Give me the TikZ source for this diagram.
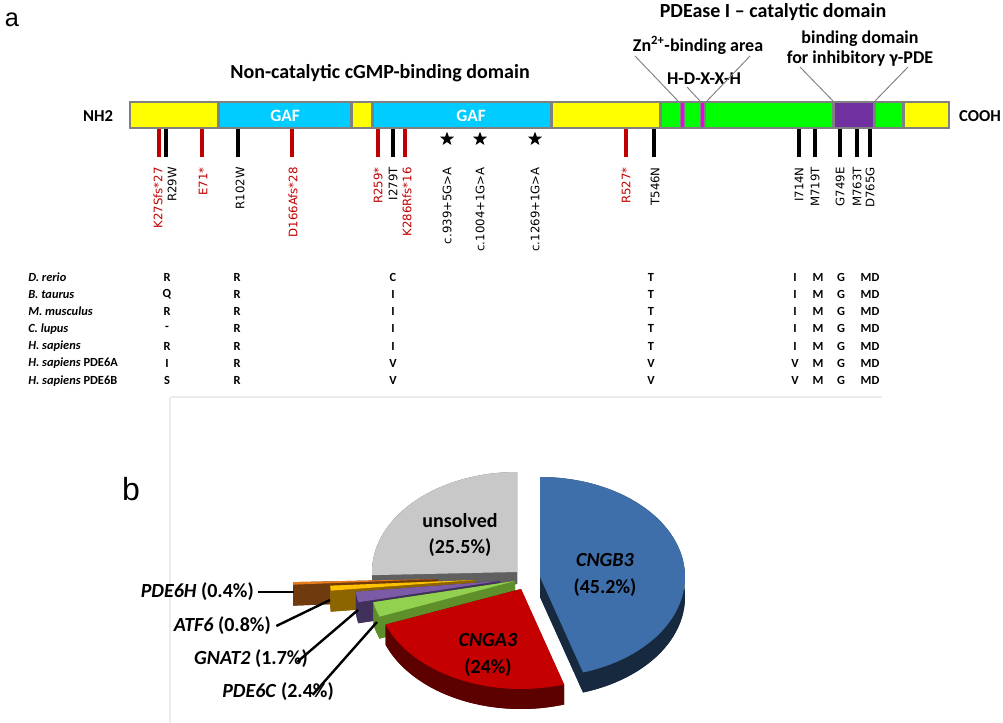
\documentclass[tikz,border=0pt]{standalone}
\usepackage{fontspec}
\setmainfont{Carlito}
\newfontfamily\mutfont{DejaVu Sans}
\newfontfamily\panelfont{Liberation Sans}
\usetikzlibrary{shapes.geometric}

\definecolor{mutred}{HTML}{C00000}
\definecolor{bargray}{HTML}{808080}
\definecolor{segyellow}{HTML}{FFFF00}
\definecolor{segcyan}{HTML}{00CCFF}
\definecolor{seggreen}{HTML}{00FF00}
\definecolor{segmagenta}{HTML}{EE00EE}
\definecolor{segpurple}{HTML}{7030A0}
\definecolor{framegray}{HTML}{EBEBEB}
\definecolor{unsolvtop}{HTML}{C8C8C8}
\definecolor{unsolvside}{HTML}{606060}
\definecolor{bluetop}{HTML}{3F6FAA}
\definecolor{blueside}{HTML}{17293F}
\definecolor{redtop}{HTML}{C40000}
\definecolor{redside}{HTML}{5C0000}
\definecolor{greentop}{HTML}{92D050}
\definecolor{greenside}{HTML}{5E8F2A}
\definecolor{purpletop}{HTML}{7B5BA6}
\definecolor{purpleside}{HTML}{40305C}
\definecolor{yellowtop}{HTML}{FFC000}
\definecolor{yellowside}{HTML}{8C6400}
\definecolor{browntop}{HTML}{E97A1C}
\definecolor{brownside}{HTML}{6E3A0E}

% one slice of the 3D pie: cx, cy, from, to, depth, top colour, side colour
\newcommand\pieslab[7]{%
  \fill[#7] (#1,#2+#5) -- plot[domain=#3:#4,samples=60] ({#1+145*cos(\x)},{#2+#5+100*sin(\x)}) -- cycle;
  \fill[#7] plot[domain=#3:#4,samples=60] ({#1+145*cos(\x)},{#2+100*sin(\x)})
    -- plot[domain=#4:#3,samples=60] ({#1+145*cos(\x)},{#2+#5+100*sin(\x)}) -- cycle;
  \fill[#7] (#1,#2) -- ({#1+145*cos(#3)},{#2+100*sin(#3)}) -- ++(0,#5) -- (#1,#2+#5) -- cycle;
  \fill[#7] (#1,#2) -- ({#1+145*cos(#4)},{#2+100*sin(#4)}) -- ++(0,#5) -- (#1,#2+#5) -- cycle;
  \fill[#6] (#1,#2) -- plot[domain=#3:#4,samples=60] ({#1+145*cos(\x)},{#2+100*sin(\x)}) -- cycle;
}

\begin{document}
\begin{tikzpicture}[x=0.75pt,y=-0.75pt,
  heading/.style={font=\fontsize{15}{18}\selectfont\bfseries,inner sep=0pt},
  sublabel/.style={font=\fontsize{13.5}{16}\selectfont\bfseries,inner sep=0pt,align=center},
  endlabel/.style={font=\fontsize{12.5}{15}\selectfont\bfseries,inner sep=0pt},
  gaflabel/.style={font=\fontsize{13}{15}\selectfont\bfseries,text=white,inner sep=0pt},
  leader/.style={draw=bargray,line width=0.7pt},
  mutlabel/.style={font=\mutfont\fontsize{8.8}{10}\selectfont,rotate=90,anchor=east,inner sep=0pt},
  species/.style={font=\fontsize{9.3}{11}\selectfont\bfseries,anchor=west,inner sep=0pt},
  resid/.style={font=\fontsize{9.3}{11}\selectfont\bfseries,inner sep=0pt},
  pietext/.style={font=\fontsize{15}{18}\selectfont\bfseries,inner sep=0pt},
  pieleader/.style={draw=black,line width=1.8pt},
  panel/.style={font=\panelfont,inner sep=0pt}]
\useasboundingbox (0,0) rectangle (1003,723);

% panel a: domain bar
\node[panel,font=\panelfont\fontsize{19}{20}\selectfont] (pa) at (12,20) {a};
\fill[bargray] (129,101) rectangle (950,129);
\foreach \xa/\xb/\col in {131/217/segyellow,220/350/segcyan,353/371/segyellow,374/550/segcyan,
  553/659/segyellow,662/680/seggreen,681/684/segmagenta,685/700/seggreen,701/704/segmagenta,
  706/832/seggreen,835/873/segpurple,876/902/seggreen,905/948/segyellow}
  \fill[\col] (\xa,103) rectangle (\xb,127);
\node[gaflabel] (gaf1) at (285,116) {GAF};
\node[gaflabel] (gaf2) at (471,116) {GAF};
\node[endlabel] (nh) at (98,116) {NH2};
\node[endlabel] (cooh) at (980,116) {COOH};

\node[heading] (noncat) at (380,73) {Non-catalytic cGMP-binding domain};
\node[heading] (cat) at (773,12) {PDEase I -- catalytic domain};
\node[sublabel] (zn) at (698,45) {Zn\textsuperscript{2+}-binding area};
\node[sublabel] (hdx) at (704,79) {H-D-X-X-H};
\node[sublabel] (inhib) at (860,49) {binding domain\\[-1pt]for inhibitory γ-PDE};

\coordinate (znA) at (635,56);  \coordinate (znB) at (678,101);
\coordinate (znC) at (750,56);  \coordinate (znD) at (707,101);
\coordinate (hdA) at (687,87);  \coordinate (hdB) at (700,101);
\coordinate (inA) at (800,67);  \coordinate (inB) at (833,101);
\coordinate (inC) at (908,67);  \coordinate (inD) at (875,101);
\draw[leader] (znA) -- (znB);
\draw[leader] (znC) -- (znD);
\draw[leader] (hdA) -- (hdB);
\draw[leader] (inA) -- (inB);
\draw[leader] (inC) -- (inD);

% mutations
\foreach \xt/\col in {159/mutred,166/black,202/mutred,238/black,292/mutred,378/mutred,393/black,
  405/mutred,626/mutred,654/black,799/black,815/black,840/black,857/black,870/black}
  \draw[line width=3pt,\col] (\xt,129) -- (\xt,157);
\foreach \xs [count=\i] in {447,480,535}
  \node[star,star points=5,star point ratio=2.4,fill=black,inner sep=0pt,minimum size=11pt] (star\i) at (\xs,139) {};
\foreach \xl/\col/\txt [count=\i] in {158/mutred/K27Sfs*27,172/black/R29W,203/mutred/E71*,
  240/black/R102W,293/mutred/D166Afs*28,378/mutred/R259*,393/black/I279T,407/mutred/K286Rfs*16,
  447/black/c.939+5G>A,480/black/c.1004+1G>A,535/black/c.1269+1G>A,626/mutred/R527*,
  655/black/T546N,799/black/I714N,815/black/M719T,840/black/G749E,857/black/M763T,870/black/D765G}
  \node[mutlabel,text=\col] (mut\i) at (\xl,167) {\txt};

% conservation table
\foreach \sp [count=\r] in {\textit{D. rerio},\textit{B. taurus},\textit{M. musculus},\textit{C. lupus},
  \textit{H. sapiens},\textit{H. sapiens} PDE6A,\textit{H. sapiens} PDE6B}
  \node[species] (sp\r) at (28,{277+17.3*(\r-1)}) {\sp};
\foreach \cx/\letters in {167/{R,Q,R,-,R,I,S},237/{R,R,R,R,R,R,R},393/{C,I,I,I,I,V,V},
  651/{T,T,T,T,T,V,V},795/{I,I,I,I,I,V,V},818/{M,M,M,M,M,M,M},841/{G,G,G,G,G,G,G},
  870/{MD,MD,MD,MD,MD,MD,MD}}
  \foreach \res [count=\r] in \letters
    \node[resid] (res\cx-\r) at (\cx,{277+17.3*(\r-1)}) {\res};

\draw[framegray,line width=0.8pt] (171,397) -- (882,397);
\draw[framegray,line width=0.8pt] (170,397) -- (170,723);

% panel b: pie
\node[panel,font=\panelfont\fontsize{24}{25}\selectfont] (pb) at (131,489) {b};
\pieslab{517}{572}{178.2}{270}{12}{unsolvtop}{unsolvside}
\pieslab{540}{577}{-90}{72.72}{20}{bluetop}{blueside}
\pieslab{438}{579}{176.76}{178.2}{21}{browntop}{brownside}
\pieslab{475}{580}{173.88}{176.76}{21}{yellowtop}{yellowside}
\pieslab{500}{581}{167.76}{173.88}{21}{purpletop}{purpleside}
\pieslab{515}{581}{159.12}{167.76}{22}{greentop}{greenside}
\pieslab{521}{589}{72.72}{159.12}{20}{redtop}{redside}

\node[pietext,align=center] (unsolved) at (460,535) {unsolved\\[2pt](25.5\%)};
\node[pietext,align=center] (cngb) at (605,575) {\textit{CNGB3}\\[2pt](45.2\%)};
\node[pietext,align=center] (cnga) at (488,655) {\textit{CNGA3}\\[2pt](24\%)};

\node[pietext,anchor=east] (lbH) at (254,592) {\textit{PDE6H} (0.4\%)};
\node[pietext,anchor=east] (lbA) at (271,626) {\textit{ATF6} (0.8\%)};
\node[pietext,anchor=east] (lbG) at (308,659) {\textit{GNAT2} (1.7\%)};
\node[pietext,anchor=east] (lbC) at (334,692) {\textit{PDE6C} (2.4\%)};
\coordinate (pH) at (294,592);
\coordinate (pA) at (330,600);
\coordinate (pG) at (358,610);
\coordinate (pC) at (377,622);
\draw[pieleader] ([xshift=3pt]lbH.east) -- (pH);
\draw[pieleader] ([xshift=4pt]lbA.east) -- (pA);
\draw[pieleader] ([xshift=-8pt,yshift=-9pt]lbG.north east) -- (pG);
\draw[pieleader] ([xshift=-16pt,yshift=-9pt]lbC.north east) -- (pC);
\end{tikzpicture}
\end{document}
